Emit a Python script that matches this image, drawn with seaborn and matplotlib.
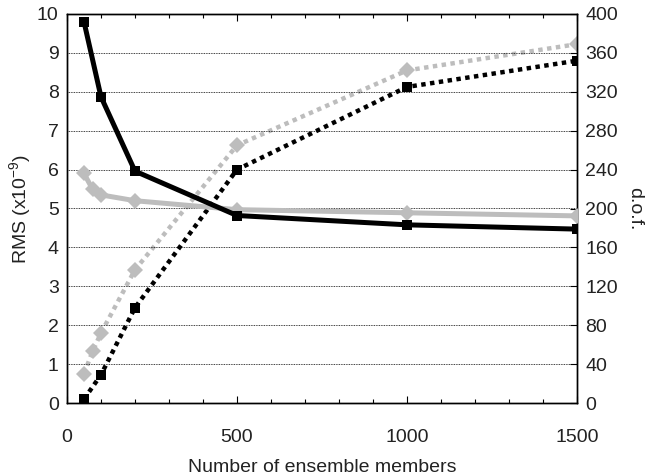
import matplotlib
matplotlib.use("Agg")
import matplotlib.pyplot as plt
import seaborn as sns
import pandas as pd
from matplotlib.ticker import MultipleLocator

plt.rcParams['font.family'] = ['Liberation Sans', 'DejaVu Sans']
plt.rcParams['mathtext.fontset'] = 'custom'
plt.rcParams['mathtext.rm'] = 'Liberation Sans'

# Data
n_black = [50, 100, 200, 500, 1000, 1500]
rms_black = [9.8, 7.87, 5.96, 4.82, 4.58, 4.47]
dof_black = [4, 29, 98, 240, 325, 352]

n_gray = [50, 75, 100, 200, 500, 1000, 1500]
rms_gray = [5.9, 5.5, 5.35, 5.2, 4.97, 4.89, 4.81]
dof_gray = [30, 53, 72, 137, 265, 342, 369]

x_ticks = [0, 500, 1000, 1500]
rms_ticks = list(range(0, 11))
dof_ticks = list(range(0, 401, 40))

df_b = pd.DataFrame({"n": n_black, "rms": rms_black, "dof": dof_black})
df_g = pd.DataFrame({"n": n_gray, "rms": rms_gray, "dof": dof_gray})

GRAY = "#bdbdbd"
TXT = "#222222"
FS = 14

fig = plt.figure(figsize=(6.5, 4.75), dpi=100)
ax = fig.add_axes([67/650, (475-403)/475, 510/650, 389/475])
ax2 = ax.twinx()

# dotted dof lines on right axis
sns.lineplot(data=df_g, x="n", y="dof", ax=ax2, color=GRAY, linewidth=3.2,
             linestyle=(0, (1, 1)), marker="D", markersize=8.5,
             markeredgecolor=GRAY, markerfacecolor=GRAY, markeredgewidth=0)
sns.lineplot(data=df_b, x="n", y="dof", ax=ax2, color="black", linewidth=3.2,
             linestyle=(0, (1, 1)), marker="s", markersize=7,
             markeredgecolor="black", markerfacecolor="black", markeredgewidth=0)

# solid RMS lines on left axis
sns.lineplot(data=df_g, x="n", y="rms", ax=ax, color=GRAY, linewidth=3.6,
             marker="D", markersize=8.5, markeredgecolor=GRAY,
             markerfacecolor=GRAY, markeredgewidth=0, zorder=3)
sns.lineplot(data=df_b, x="n", y="rms", ax=ax, color="black", linewidth=3.6,
             marker="s", markersize=7, markeredgecolor="black",
             markerfacecolor="black", markeredgewidth=0, zorder=4)

ax.set_zorder(ax2.get_zorder() + 1)
ax.patch.set_visible(False)

ax.set_xlim(0, 1500)
ax.set_ylim(0, 10)
ax2.set_ylim(0, 400)
ax.set_xticks(x_ticks)
ax.set_xticklabels([str(t) for t in x_ticks])
ax.xaxis.set_minor_locator(MultipleLocator(100))
ax.set_yticks(rms_ticks)
ax.set_yticklabels([str(t) for t in rms_ticks])
ax2.set_yticks(dof_ticks)
ax2.set_yticklabels([str(t) for t in dof_ticks])

for a in (ax, ax2):
    for s in a.spines.values():
        s.set_color("black")
        s.set_linewidth(1.0)

ax.yaxis.grid(True, color="black", linestyle=(0, (1, 1)), linewidth=0.6)
ax.set_axisbelow(True)

ax.tick_params(axis="x", which="major", direction="in", length=5, width=0.8,
               top=True, bottom=True, labelsize=FS, pad=19, colors="black",
               labelcolor=TXT)
ax.tick_params(axis="x", which="minor", direction="in", length=3, width=0.8,
               top=True, bottom=True)
ax.tick_params(axis="y", which="both", length=0, labelsize=FS, pad=6,
               labelcolor=TXT)
ax2.tick_params(axis="y", direction="in", length=5, width=0.8, labelsize=FS,
                pad=6, labelcolor=TXT)

ax.set_xlabel("Number of ensemble members", fontsize=FS, labelpad=9,
              color=TXT)
ax.set_ylabel("RMS (x10$^{\\mathregular{-9}}$)", fontsize=FS, labelpad=2,
              color=TXT)
ax2.set_ylabel("d.o.f.", fontsize=FS, rotation=-90, labelpad=18,
               color=TXT)

fig.savefig("out.png", dpi=100)
